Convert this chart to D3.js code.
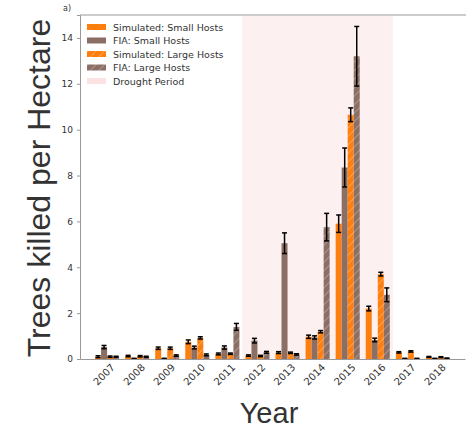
<!DOCTYPE html>
<html>
<head>
<meta charset="utf-8">
<script src="https://cdn.jsdelivr.net/npm/d3@7"></script>
<style>
  body { margin: 0; background: #fff; }
</style>
</head>
<body>
<div id="chart"></div>
<script>
const years = [2007, 2008, 2009, 2010, 2011, 2012, 2013, 2014, 2015, 2016, 2017, 2018];

const simSmall    = [0.10, 0.13, 0.47, 0.75, 0.22, 0.15, 0.28, 0.97, 5.90, 2.20, 0.29, 0.09];
const simSmallErr = [0.04, 0.03, 0.05, 0.08, 0.04, 0.03, 0.04, 0.07, 0.38, 0.10, 0.03, 0.02];
const fiaSmall    = [0.52, 0.02, 0.02, 0.50, 0.50, 0.80, 5.05, 0.94, 8.35, 0.83, 0.02, 0.02];
const fiaSmallErr = [0.07, 0.01, 0.01, 0.06, 0.07, 0.10, 0.45, 0.07, 0.85, 0.08, 0.01, 0.01];
const simLarge    = [0.10, 0.12, 0.47, 0.92, 0.23, 0.13, 0.27, 1.19, 10.65, 3.70, 0.33, 0.08];
const simLargeErr = [0.03, 0.03, 0.05, 0.05, 0.03, 0.03, 0.03, 0.05, 0.30, 0.08, 0.03, 0.02];
const fiaLarge    = [0.10, 0.10, 0.15, 0.18, 1.40, 0.29, 0.20, 5.75, 13.20, 2.80, 0.02, 0.03];
const fiaLargeErr = [0.02, 0.02, 0.03, 0.04, 0.15, 0.04, 0.03, 0.60, 1.30, 0.30, 0.01, 0.01];

const droughtPeriod = [2011.5, 2016.5];
const yTicks = [0, 2, 4, 6, 8, 10, 12, 14];

const width = 466;
const height = 430;
const margin = { top: 15, right: 1, bottom: 71, left: 80 };

const orange = '#ff7f0e';
const brown = '#8b6f65';

const svg = d3.select('#chart')
  .append('svg')
  .attr('width', width)
  .attr('height', height)
  .style('font-family', 'DejaVu Sans, sans-serif');

const defs = svg.append('defs');
function hatch(id, color) {
  const p = defs.append('pattern')
    .attr('id', id)
    .attr('patternUnits', 'userSpaceOnUse')
    .attr('width', 6)
    .attr('height', 6)
    .attr('patternTransform', 'rotate(45)');
  p.append('rect').attr('width', 6).attr('height', 6).attr('fill', color);
  p.append('line')
    .attr('x1', 0).attr('y1', 0).attr('x2', 0).attr('y2', 6)
    .attr('stroke', '#fff').attr('stroke-opacity', 0.45).attr('stroke-width', 1.2);
}
hatch('hatchOrange', orange);
hatch('hatchBrown', brown);

const x = d3.scaleLinear()
  .domain([2006.1, 2018.9])
  .range([margin.left, width - margin.right]);

const y = d3.scaleLinear()
  .domain([0, 15])
  .range([height - margin.bottom, margin.top]);

const barW = x(2007.2) - x(2007);

// drought span
svg.append('rect')
  .attr('x', x(droughtPeriod[0]))
  .attr('y', y(15))
  .attr('width', x(droughtPeriod[1]) - x(droughtPeriod[0]))
  .attr('height', y(0) - y(15))
  .attr('fill', '#fdf0f0');

const series = [
  { name: 'Simulated: Small Hosts', values: simSmall, err: simSmallErr, fill: orange, off: -0.3 },
  { name: 'FIA: Small Hosts', values: fiaSmall, err: fiaSmallErr, fill: brown, off: -0.1 },
  { name: 'Simulated: Large Hosts', values: simLarge, err: simLargeErr, fill: 'url(#hatchOrange)', off: 0.1 },
  { name: 'FIA: Large Hosts', values: fiaLarge, err: fiaLargeErr, fill: 'url(#hatchBrown)', off: 0.3 },
];

series.forEach(s => {
  const g = svg.append('g');
  const rows = years.map((yr, i) => ({ yr, v: s.values[i], e: s.err[i] }));

  g.selectAll('rect')
    .data(rows)
    .join('rect')
      .attr('x', d => x(d.yr + s.off) - barW / 2)
      .attr('y', d => y(d.v))
      .attr('width', barW)
      .attr('height', d => y(0) - y(d.v))
      .attr('fill', s.fill);

  const eb = g.selectAll('g.err')
    .data(rows)
    .join('g')
      .attr('class', 'err')
      .attr('stroke', '#000')
      .attr('stroke-width', 1.5);
  eb.append('line')
    .attr('x1', d => x(d.yr + s.off)).attr('x2', d => x(d.yr + s.off))
    .attr('y1', d => y(Math.max(0, d.v - d.e))).attr('y2', d => y(d.v + d.e));
  eb.append('line')
    .attr('x1', d => x(d.yr + s.off) - 2.5).attr('x2', d => x(d.yr + s.off) + 2.5)
    .attr('y1', d => y(d.v + d.e)).attr('y2', d => y(d.v + d.e));
  eb.append('line')
    .attr('x1', d => x(d.yr + s.off) - 2.5).attr('x2', d => x(d.yr + s.off) + 2.5)
    .attr('y1', d => y(Math.max(0, d.v - d.e))).attr('y2', d => y(Math.max(0, d.v - d.e)));
});

// top spine
svg.append('line')
  .attr('x1', margin.left).attr('x2', width)
  .attr('y1', y(15)).attr('y2', y(15))
  .attr('stroke', '#ccc').attr('stroke-width', 2);

// y axis
const yAxis = svg.append('g')
  .attr('transform', `translate(${margin.left},0)`)
  .call(d3.axisLeft(y).tickValues(yTicks).tickSize(3).tickPadding(4))
  .attr('font-size', '9px')
  .attr('font-family', 'DejaVu Sans, sans-serif');
yAxis.select('.domain').attr('stroke', '#999');
yAxis.selectAll('.tick line').attr('stroke', '#999');
yAxis.selectAll('.tick text').attr('fill', '#333');

// x axis
const xAxis = svg.append('g')
  .attr('transform', `translate(0,${y(0)})`)
  .call(d3.axisBottom(x).tickValues(years).tickFormat(d3.format('d')).tickSize(0).tickPadding(0))
  .attr('font-size', '10px')
  .attr('font-family', 'DejaVu Sans, sans-serif');
xAxis.select('.domain').attr('stroke', '#999');
xAxis.selectAll('.tick text')
  .attr('fill', '#333')
  .attr('text-anchor', 'middle')
  .attr('dy', null)
  .attr('y', 0)
  .attr('transform', 'translate(-1,18) rotate(-45)');

// axis titles
svg.append('text')
  .attr('transform', `translate(50,188) rotate(-90)`)
  .attr('text-anchor', 'middle')
  .attr('font-family', 'Liberation Sans, Arial, sans-serif')
  .attr('font-size', '32px')
  .attr('fill', '#333')
  .text('Trees killed per Hectare');

svg.append('text')
  .attr('x', 269)
  .attr('y', 423)
  .attr('text-anchor', 'middle')
  .attr('font-family', 'Liberation Sans, Arial, sans-serif')
  .attr('font-size', '29px')
  .attr('fill', '#333')
  .text('Year');

svg.append('text')
  .attr('x', 63)
  .attr('y', 11)
  .attr('font-size', '8px')
  .attr('fill', '#333')
  .text('a)');

// legend
const legendItems = series.map(s => ({ name: s.name, fill: s.fill }))
  .concat([{ name: 'Drought Period', fill: '#fde2e4' }]);
const legend = svg.append('g').attr('transform', 'translate(87,24)');
legendItems.forEach((d, i) => {
  const row = legend.append('g').attr('transform', `translate(0,${i * 13.5})`);
  row.append('rect')
    .attr('width', 19).attr('height', 6)
    .attr('fill', d.fill);
  row.append('text')
    .attr('x', 26).attr('y', 6.5)
    .attr('font-size', '9.5px')
    .attr('fill', '#333')
    .text(d.name);
});
</script>
</body>
</html>
